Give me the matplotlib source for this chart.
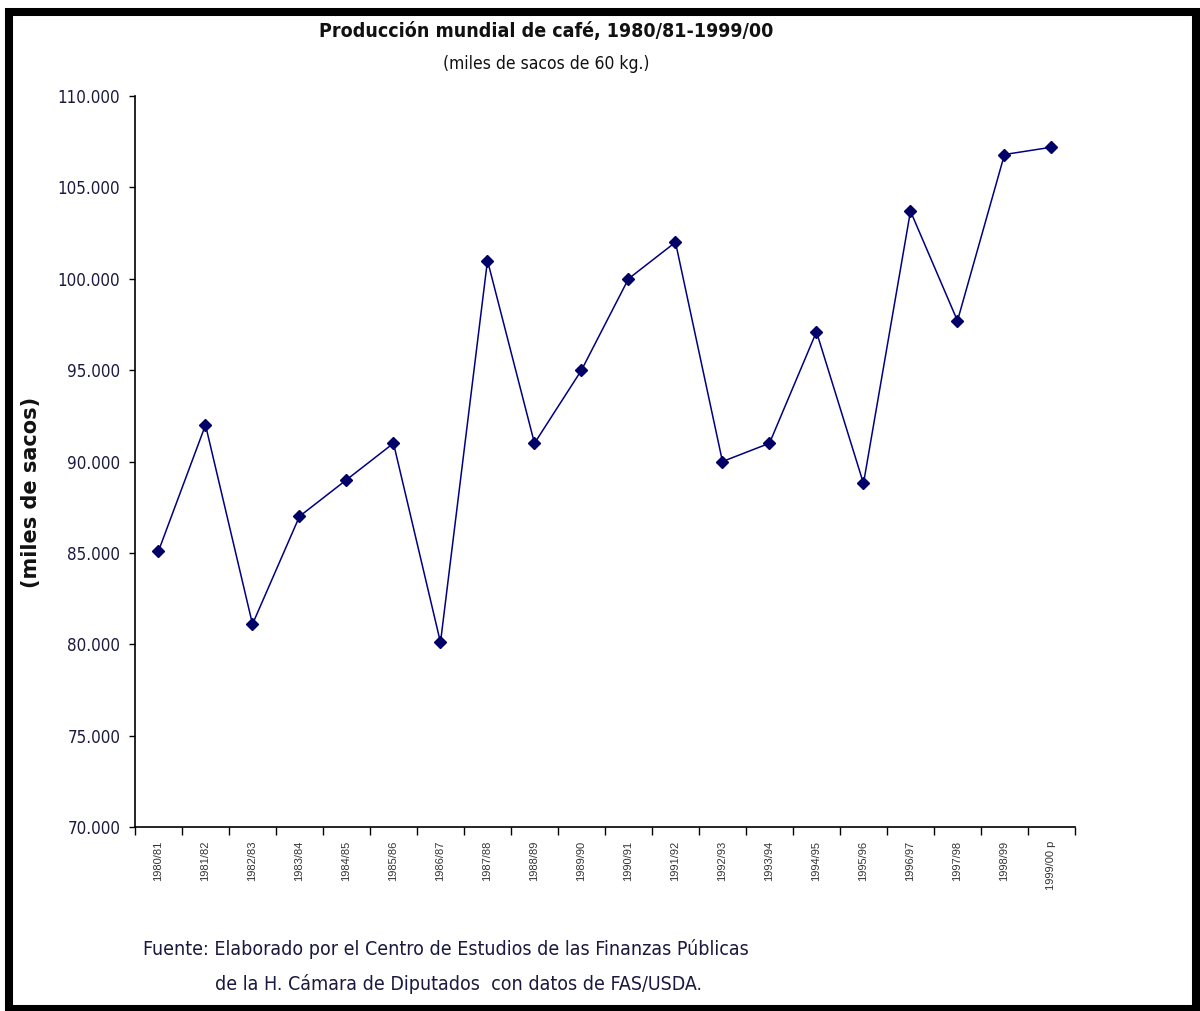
import numpy as np
import matplotlib.pyplot as plt
from matplotlib.patches import Rectangle

campanas = ["1980/81", "1981/82", "1982/83", "1983/84", "1984/85", "1985/86",
            "1986/87", "1987/88", "1988/89", "1989/90", "1990/91", "1991/92",
            "1992/93", "1993/94", "1994/95", "1995/96", "1996/97", "1997/98",
            "1998/99", "1999/00 p"]
produccion = [85100, 92000, 81100, 87000, 89000, 91000, 80100, 101000, 91000,
              95000, 100000, 102000, 90000, 91000, 97100, 88800, 103700, 97700,
              106800, 107200]
yticks = [70000, 75000, 80000, 85000, 90000, 95000, 100000, 105000, 110000]

# letra angosta tipo Arial Narrow
narrow = dict(family='DejaVu Sans', fontstretch='condensed')
txt = '#1a1a40'

fig = plt.figure(figsize=(12, 10.11), dpi=100)
ax = fig.add_axes([0.1125, 0.182, 0.7833, 0.723])

x = np.arange(len(campanas))
ax.plot(x, produccion, color='#000080', lw=1.1, marker='D', ms=6,
        markerfacecolor='#000066', markeredgecolor='#000066')

ax.set_xlim(-0.5, len(campanas) - 0.5)
ax.set_ylim(70000, 110000)
ax.set_yticks(yticks)
ax.set_yticklabels([f"{v:,}".replace(",", ".") for v in yticks],
                   fontsize=12.2, color=txt, **narrow)
ax.set_xticks(x)
ax.set_xticklabels(campanas, rotation=90, fontsize=8, color='#333333',
                   family=['Liberation Sans', 'DejaVu Sans'], va='top')
ax.set_xticks(np.arange(-0.5, len(campanas)), minor=True)
ax.tick_params(axis='x', which='major', length=0, pad=10)
ax.tick_params(axis='x', which='minor', length=6, width=1, direction='out')
ax.tick_params(axis='y', length=4.5, width=1, direction='out', pad=6)

for s in ['top', 'right']:
    ax.spines[s].set_visible(False)
for s in ['left', 'bottom']:
    ax.spines[s].set_linewidth(1.2)

fig.text(0.455, 0.969, "Producción mundial de café, 1980/81-1999/00",
         ha='center', va='center', fontsize=14, fontweight='bold',
         color='#111111', **narrow)
fig.text(0.455, 0.937, "(miles de sacos de 60 kg.)", ha='center', va='center',
         fontsize=12.5, color='#111111', **narrow)
fig.text(0.026, 0.513, "(miles de sacos)", rotation=90, ha='center', va='center',
         fontsize=15, fontweight='bold', family='DejaVu Sans', color='#111111')

fig.text(0.119, 0.061, "Fuente: Elaborado por el Centro de Estudios de las Finanzas Públicas",
         ha='left', va='center', fontsize=14, color=txt, **narrow)
fig.text(0.179, 0.027, "de la H. Cámara de Diputados  con datos de FAS/USDA.",
         ha='left', va='center', fontsize=14, color=txt, **narrow)

# marco negro
W, H = 1200, 1011
fig.patches.append(Rectangle((8.5 / W, 2.5 / H), (1196 - 8.5) / W, (999 - 2.5) / H,
                             transform=fig.transFigure, fill=False,
                             edgecolor='black', linewidth=5.8))

fig.savefig("out.png", dpi=100)
